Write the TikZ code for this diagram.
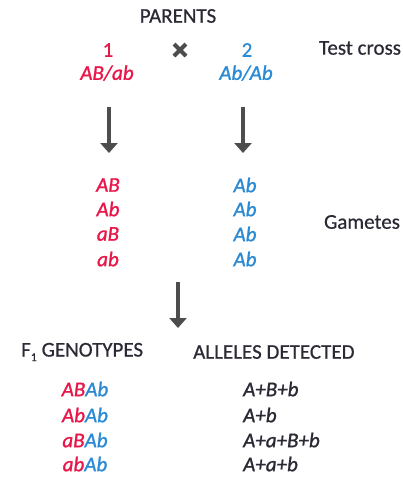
\documentclass[tikz,border=0pt]{standalone}
\usepackage{fontspec}
\setmainfont{Carlito}
\usetikzlibrary{arrows.meta}
\definecolor{pred}{HTML}{E8174A}
\definecolor{pblue}{HTML}{2A8AD4}
\definecolor{ink}{HTML}{2A2A35}
\definecolor{arr}{HTML}{4D4D4D}
\begin{document}
\begin{tikzpicture}[x=1pt,y=1pt,
  txt/.style={inner sep=0pt,font=\fontsize{21}{23}\selectfont\addfontfeatures{FakeBold=0.6},text=ink},
  gr/.style={txt,text=pred,font=\fontsize{21}{23}\selectfont\itshape\addfontfeatures{FakeBold=1.2}},
  gb/.style={txt,text=pblue,font=\fontsize{21}{23}\selectfont\itshape\addfontfeatures{FakeBold=1.2}},
  gk/.style={txt,text=ink,font=\fontsize{21}{23}\selectfont\itshape\addfontfeatures{FakeBold=1.2}},
  downarrow/.style={draw=arr,line width=4pt,-{Triangle[width=17pt,length=10pt]}}]
\useasboundingbox (0,0) rectangle (403,-477);
% headers
\node[txt] (parents) at (178,-16) {PARENTS};
\node[txt,text=pred] (one) at (108,-50) {1};
\node[txt,text=pblue] (two) at (247,-50) {2};
\node[gr] (p1) at (107,-73) {AB/ab};
\node[gb] (p2) at (246,-73) {Ab/Ab};
\node[txt] (test) at (360,-48) {Test cross};
\coordinate (cross) at (180,-50);
\draw[arr,line width=4pt] ([shift={(-6,-6)}]cross) -- ([shift={(6,6)}]cross)
  ([shift={(-6,6)}]cross) -- ([shift={(6,-6)}]cross);
% arrows
\coordinate (a1s) at (109,-107); \coordinate (a1e) at (109,-153);
\coordinate (a2s) at (243,-107); \coordinate (a2e) at (243,-153);
\draw[downarrow] (a1s) -- (a1e);
\draw[downarrow] (a2s) -- (a2e);
% gametes
\node[gr] (g1) at (108,-185) {AB};
\node[gr] (g2) at (108,-209) {Ab};
\node[gr] (g3) at (108,-234) {aB};
\node[gr] (g4) at (108,-259) {ab};
\node[gb] (h1) at (245,-185) {Ab};
\node[gb] (h2) at (245,-209) {Ab};
\node[gb] (h3) at (245,-234) {Ab};
\node[gb] (h4) at (245,-259) {Ab};
\node[txt] (gam) at (362,-222) {Gametes};
% big arrow
\coordinate (bs) at (178,-282); \coordinate (be) at (178,-328);
\draw[downarrow] (bs) -- (be);
% F1
\node[txt,anchor=west] (f1) at (21,-352) {F\raisebox{-0.45ex}{\fontsize{12}{13}\selectfont 1} GENOTYPES};
\node[txt,anchor=west] (al) at (193,-352) {ALLELES DETECTED};
\node[gk] (r1) at (85,-389) {\textcolor{pred}{AB}\textcolor{pblue}{Ab}};
\node[gk] (r2) at (85,-415) {\textcolor{pred}{Ab}\textcolor{pblue}{Ab}};
\node[gk] (r3) at (85,-440) {\textcolor{pred}{aB}\textcolor{pblue}{Ab}};
\node[gk] (r4) at (85,-464) {\textcolor{pred}{ab}\textcolor{pblue}{Ab}};
\node[gk,anchor=west] (d1) at (243,-389) {A+B+b};
\node[gk,anchor=west] (d2) at (243,-415) {A+b};
\node[gk,anchor=west] (d3) at (243,-440) {A+a+B+b};
\node[gk,anchor=west] (d4) at (243,-464) {A+a+b};
\end{tikzpicture}
\end{document}
